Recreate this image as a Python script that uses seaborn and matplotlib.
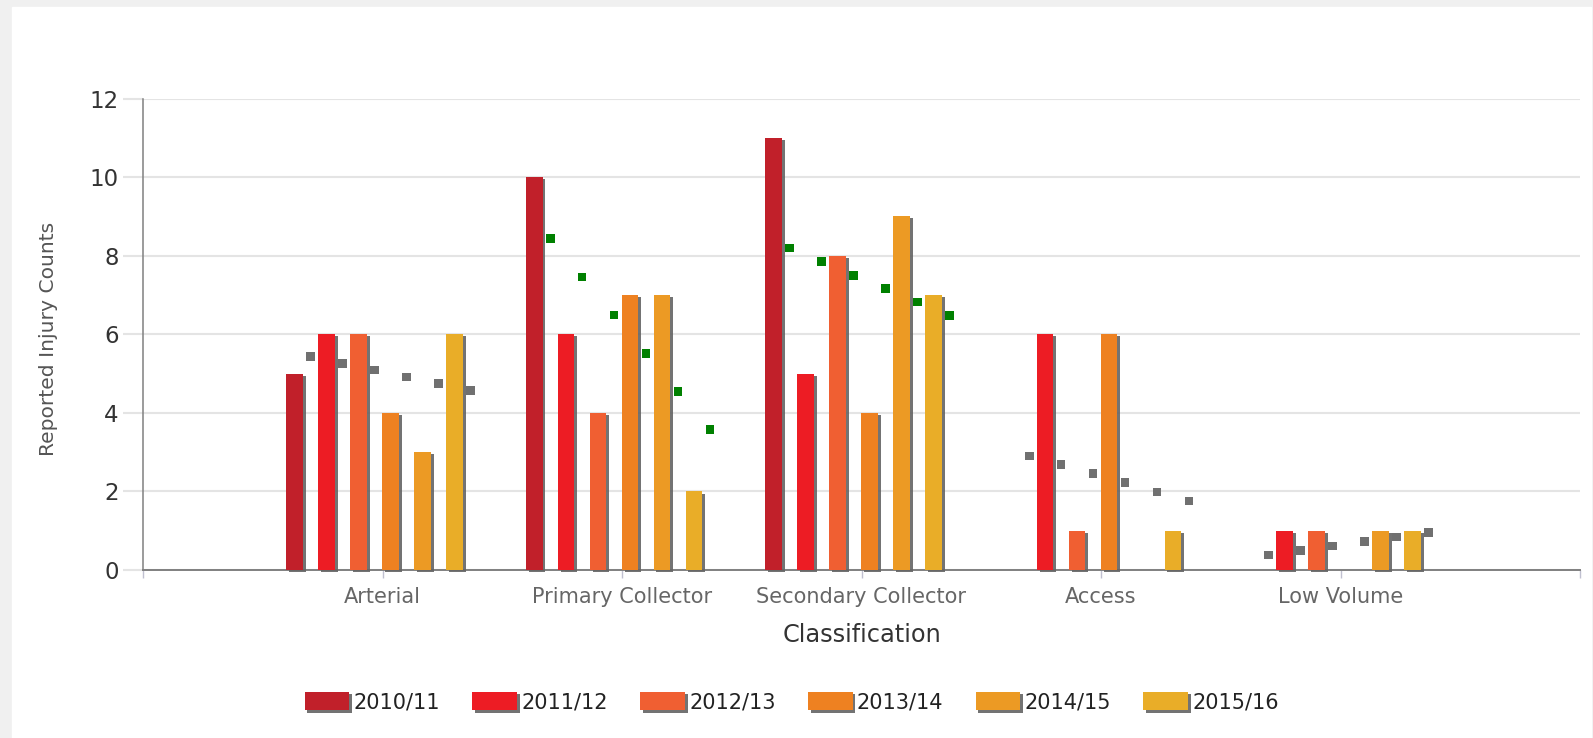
# Reported injury counts by road classification, with per-class trend points

import numpy as np
import pandas as pd
import matplotlib
matplotlib.use("Agg")
import matplotlib.pyplot as plt
import matplotlib.patheffects as pe
from matplotlib.patches import Rectangle
import seaborn as sns

# Data
classes = ["Arterial", "Primary Collector", "Secondary Collector", "Access", "Low Volume"]
seasons = ["2010/11", "2011/12", "2012/13", "2013/14", "2014/15", "2015/16"]

arterial = [5, 6, 6, 4, 3, 6]
primary = [10, 6, 4, 7, 7, 2]
secondary = [11, 5, 8, 4, 9, 7]
access = [0, 6, 1, 6, 0, 1]
low_volume = [0, 1, 1, 0, 1, 1]

# trend points drawn beside each bar
arterial_trend = [5.43, 5.26, 5.09, 4.91, 4.74, 4.57]
primary_trend = [8.43, 7.46, 6.49, 5.51, 4.54, 3.57]
secondary_trend = [8.19, 7.85, 7.50, 7.16, 6.82, 6.48]
access_trend = [2.90, 2.68, 2.45, 2.22, 1.99, 1.76]
low_volume_trend = [0.38, 0.50, 0.61, 0.72, 0.84, 0.95]

trend_colors = ["#707070", "#008000", "#008000", "#707070", "#707070"]
bar_colors = ["#c1202a", "#ed1c24", "#f05f32", "#ee8121", "#ec9a24", "#e9ad28"]

counts = [arterial, primary, secondary, access, low_volume]
trends = [arterial_trend, primary_trend, secondary_trend, access_trend, low_volume_trend]

rows = []
for c, vals in zip(classes, counts):
    for s, v in zip(seasons, vals):
        rows.append({"Classification": c, "Season": s, "Count": v})
df = pd.DataFrame(rows)

# ----------- Figure -----------
W, H = 1593, 738
fig = plt.figure(figsize=(W / 100, H / 100), dpi=100, facecolor="#f0f0f0")
fig.add_artist(Rectangle((12 / W, 0), (1591 - 12) / W, (H - 7) / H,
                         transform=fig.transFigure, color="white", zorder=-1))

left, right = 143 / W, 1580 / W
bottom, top = 1 - 570 / H, 1 - 98.5 / H
ax = fig.add_axes([left, bottom, right - left, top - bottom])
ax.set_facecolor("none")

bar_width = 0.8
sns.barplot(data=df, x="Classification", y="Count", hue="Season",
            order=classes, hue_order=seasons, palette=bar_colors,
            width=bar_width, gap=0.48, dodge=True, legend=False, ax=ax,
            linewidth=0, saturation=1, err_kws={"linewidth": 0})

shadow = [pe.SimplePatchShadow(offset=(2, -1.5), shadow_rgbFace="#646464", alpha=0.9),
          pe.Normal()]
for p in ax.patches:
    p.set_path_effects(shadow)
    p.set_clip_on(False)
    p.set_zorder(3)

# trend points sit half a slot to the right of each bar
slot = bar_width / len(seasons)
offsets = -bar_width / 2 + slot / 2 + slot * np.arange(len(seasons))
trow = []
for i, (c, vals) in enumerate(zip(classes, trends)):
    for k, v in enumerate(vals):
        trow.append({"pos": i + offsets[k] + slot / 2, "Trend": v, "Classification": c})
tdf = pd.DataFrame(trow)
sns.scatterplot(data=tdf, x="pos", y="Trend", hue="Classification",
                palette=dict(zip(classes, trend_colors)), marker="s", s=38,
                linewidth=0, legend=False, ax=ax, zorder=4)

# axes styling
shift = 0.033
ax.set_xlim(-1 + shift, 5 + shift)
ax.set_ylim(0, 12)
ax.set_xticks(np.arange(-1, 6) + shift)
ax.set_xticklabels([""] + classes + [""])
ax.set_yticks(range(0, 13, 2))
ax.yaxis.grid(True, color="#e4e4e4", linewidth=1.5)
ax.xaxis.grid(False)
ax.set_axisbelow(True)

for s in ["top", "right"]:
    ax.spines[s].set_visible(False)
ax.spines["left"].set_color("#808080")
ax.spines["left"].set_linewidth(1.1)
ax.spines["bottom"].set_color("#808080")
ax.spines["bottom"].set_linewidth(1.4)

ax.tick_params(axis="y", length=14.4, width=1.5, color="#e4e4e4", pad=3,
               labelsize=16.5, labelcolor="#333333")
ax.tick_params(axis="x", length=6, width=1, color="#c0c0d0", pad=6,
               labelsize=15, labelcolor="#666666")

ax.set_xlabel("Classification", fontsize=17.3, color="#333333", va="center")
ax.xaxis.set_label_coords(0.5, -0.138)
ax.set_ylabel("Reported Injury Counts", fontsize=14.6, color="#555555", va="center")
ax.yaxis.set_label_coords(-0.0661, 0.49)

# legend
handles = [Rectangle((0, 0), 1, 1, facecolor=col, linewidth=0,
                     path_effects=[pe.SimplePatchShadow(offset=(2, -1.5), shadow_rgbFace="#646464", alpha=0.9), pe.Normal()])
           for col in bar_colors]
fig.legend(handles, seasons, loc="center", bbox_to_anchor=(0.497, 1 - 702 / H),
           ncol=6, frameon=False, fontsize=15, labelcolor="#222222",
           handlelength=2.15, handleheight=1.0, handletextpad=0.2, columnspacing=1.55)

plt.savefig("out.png", dpi=100, facecolor=fig.get_facecolor())
